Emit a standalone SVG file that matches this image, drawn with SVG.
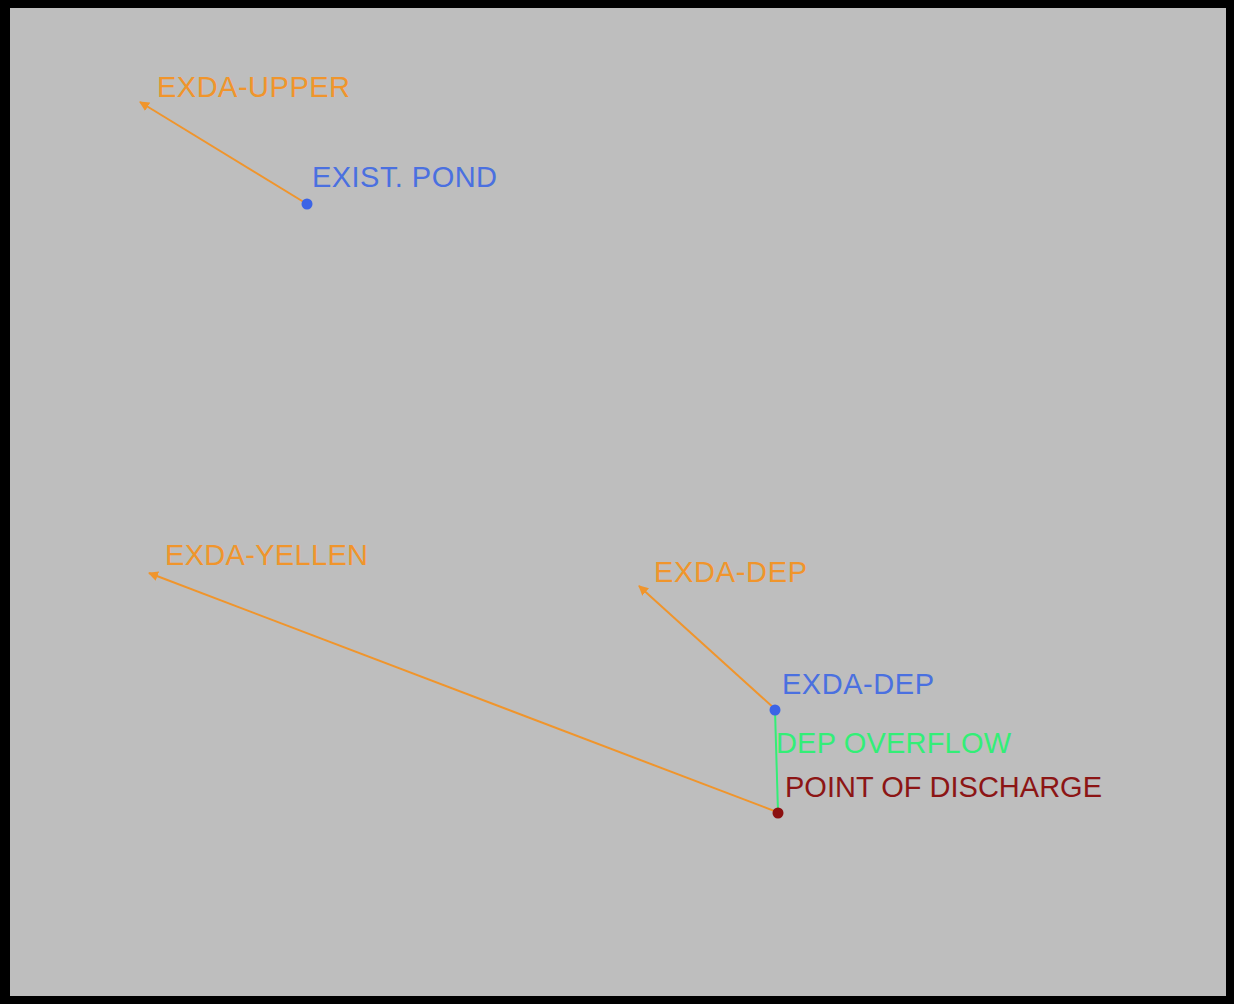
<svg xmlns="http://www.w3.org/2000/svg" width="1234" height="1004" viewBox="0 0 1234 1004">
<style>
.lbl{font-family:"Liberation Sans",Arial,sans-serif;font-size:29px}
.or{fill:#f0952c}
.bl{fill:#4a70e0}
.gr{fill:#33ee77}
.rd{fill:#8c1515}
.edge{fill:none;stroke-width:2}
</style>
<defs>
<marker id="arr" viewBox="0 0 10 10" refX="9" refY="5" markerWidth="10" markerHeight="10" orient="auto" markerUnits="userSpaceOnUse">
<path d="M0,0 L10,5 L0,10 z" fill="#f0952c"/>
</marker>
</defs>
<rect x="0" y="0" width="1234" height="1004" fill="#000"/>
<rect x="10" y="8" width="1216" height="988" fill="#bebebe"/>
<g id="connectors">
<line class="edge" x1="307" y1="204" x2="140" y2="102" stroke="#f0952c" marker-end="url(#arr)"/>
<line class="edge" x1="777" y1="812" x2="149" y2="573" stroke="#f0952c" marker-end="url(#arr)"/>
<line class="edge" x1="775" y1="709" x2="639" y2="586" stroke="#f0952c" marker-end="url(#arr)"/>
<line class="edge" x1="775" y1="710" x2="778" y2="812" stroke="#33ee77"/>
</g>
<g id="exda-upper"><text class="lbl or" x="157" y="97" textLength="193">EXDA-UPPER</text></g>
<g id="exist-pond"><circle cx="307" cy="204" r="5.5" fill="#3c64e6"/><text class="lbl bl" x="312" y="187" textLength="185">EXIST. POND</text></g>
<g id="exda-yellen"><text class="lbl or" x="165" y="565" textLength="203">EXDA-YELLEN</text></g>
<g id="exda-dep-upper"><text class="lbl or" x="654" y="582" textLength="153">EXDA-DEP</text></g>
<g id="exda-dep"><circle cx="775" cy="710" r="5.5" fill="#3c64e6"/><text class="lbl bl" x="782" y="694" textLength="152">EXDA-DEP</text></g>
<g id="dep-overflow"><text class="lbl gr" x="776" y="753" textLength="235">DEP OVERFLOW</text></g>
<g id="point-of-discharge"><circle cx="778" cy="813" r="5.5" fill="#8c1010"/><text class="lbl rd" x="785" y="797" textLength="317">POINT OF DISCHARGE</text></g>
</svg>
